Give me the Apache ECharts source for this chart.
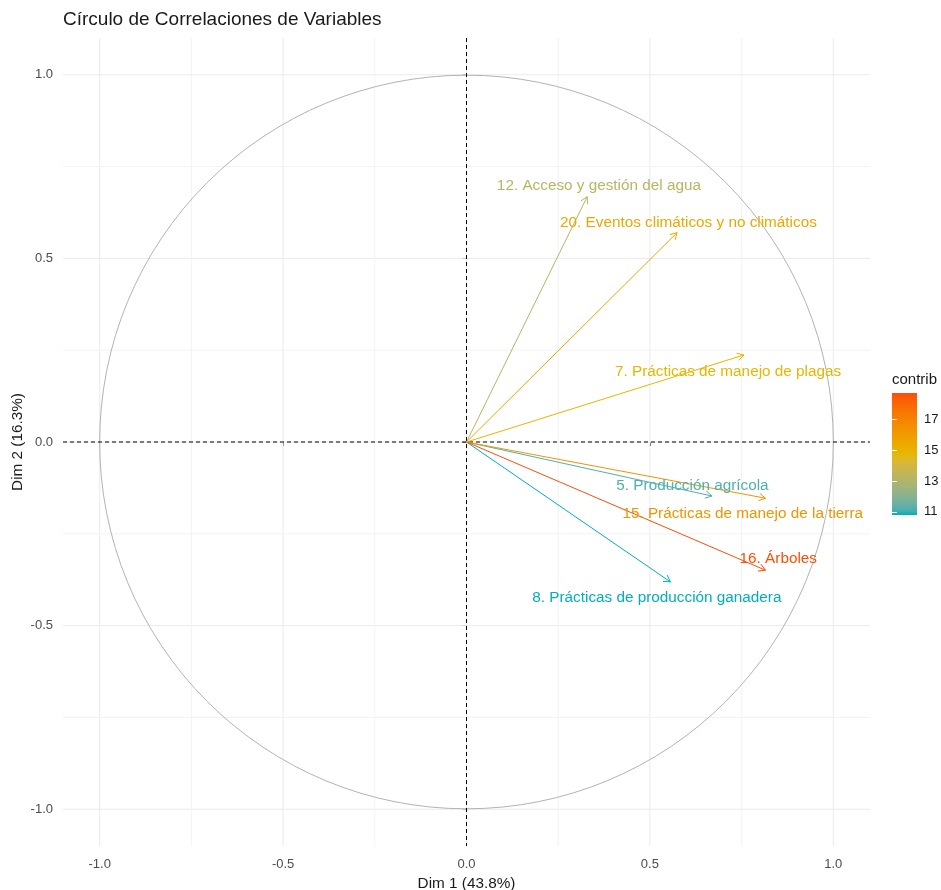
<!DOCTYPE html>
<html>
<head>
<meta charset="utf-8">
<script src="https://cdn.jsdelivr.net/npm/echarts@6/dist/echarts.min.js"></script>
<style>
  html, body { margin: 0; padding: 0; background: #ffffff; }
  #chart { width: 941px; height: 890px; }
</style>
</head>
<body>
<div id="chart"></div>
<script>
// Variable coordinates on the first two PCA dimensions and their contribution
const varNames = [
  '5. Producción agrícola',
  '7. Prácticas de manejo de plagas',
  '8. Prácticas de producción ganadera',
  '12. Acceso y gestión del agua',
  '15. Prácticas de manejo de la tierra',
  '16. Árboles',
  '20. Eventos climáticos y no climáticos'
];
const dim1 = [0.669, 0.756, 0.556, 0.329, 0.815, 0.815, 0.574];
const dim2 = [-0.147, 0.237, -0.381, 0.668, -0.153, -0.349, 0.570];
const contrib = [11.2, 14.9, 10.8, 13.2, 16.3, 18.7, 15.5];

const axisTicks = [-1, -0.5, 0, 0.5, 1];
const minorTicks = [-0.75, -0.25, 0.25, 0.75];
const legendTicks = [11, 13, 15, 17];

const chartTitle = 'Círculo de Correlaciones de Variables';
const xTitle = 'Dim 1 (43.8%)';
const yTitle = 'Dim 2 (16.3%)';
const legendTitle = 'contrib';

// Repelled label anchors, in data units
const labelAnchors = [
  [0.616, -0.120], [0.713, 0.190], [0.519, -0.423], [0.361, 0.698],
  [0.753, -0.195], [0.850, -0.318], [0.605, 0.597]
];

const gradientCols = ['#00AFBB', '#E7B800', '#FC4E07'];
const FONT = '"Liberation Sans", Arial, sans-serif';
const cMin = Math.min(...contrib);
const cMax = Math.max(...contrib);

// ---- colour ramp interpolated in CIELAB ----
function hexToRgb(h) {
  return [1, 3, 5].map(i => parseInt(h.substr(i, 2), 16) / 255);
}
function toLinear(c) { return c <= 0.04045 ? c / 12.92 : Math.pow((c + 0.055) / 1.055, 2.4); }
function fromLinear(c) { return c <= 0.0031308 ? 12.92 * c : 1.055 * Math.pow(c, 1 / 2.4) - 0.055; }
const WHITE = [0.95047, 1.0, 1.08883];
function rgbToLab(rgb) {
  const [r, g, b] = rgb.map(toLinear);
  const xyz = [
    0.4124564 * r + 0.3575761 * g + 0.1804375 * b,
    0.2126729 * r + 0.7151522 * g + 0.0721750 * b,
    0.0193339 * r + 0.1191920 * g + 0.9503041 * b
  ];
  const f = xyz.map((v, i) => {
    const t = v / WHITE[i];
    return t > 216 / 24389 ? Math.cbrt(t) : (24389 / 27 * t + 16) / 116;
  });
  return [116 * f[1] - 16, 500 * (f[0] - f[1]), 200 * (f[1] - f[2])];
}
function labToHex(lab) {
  const fy = (lab[0] + 16) / 116, fx = fy + lab[1] / 500, fz = fy - lab[2] / 200;
  const inv = t => (t * t * t > 216 / 24389 ? t * t * t : (116 * t - 16) / (24389 / 27));
  const X = inv(fx) * WHITE[0], Y = inv(fy) * WHITE[1], Z = inv(fz) * WHITE[2];
  const r = 3.2404542 * X - 1.5371385 * Y - 0.4985314 * Z;
  const g = -0.9692660 * X + 1.8760108 * Y + 0.0415560 * Z;
  const b = 0.0556434 * X - 0.2040259 * Y + 1.0572252 * Z;
  return '#' + [r, g, b].map(c => {
    const v = Math.round(Math.min(1, Math.max(0, fromLinear(c))) * 255);
    return v.toString(16).padStart(2, '0');
  }).join('');
}
function labRamp(cols, n) {
  const labs = cols.map(c => rgbToLab(hexToRgb(c)));
  const out = [];
  for (let k = 0; k < n; k++) {
    const t = k / (n - 1) * (labs.length - 1);
    const i = Math.min(Math.floor(t), labs.length - 2);
    const u = t - i;
    out.push(labToHex(labs[i].map((v, j) => v + (labs[i + 1][j] - v) * u)));
  }
  return out;
}
const rampCols = labRamp(gradientCols, 31);

const arrowData = dim1.map((x, i) => [x, dim2[i], contrib[i], i]);
const labelData = labelAnchors.map((p, i) => [p[0], p[1], contrib[i], i]);

// Panel grid lines (major + minor)
function renderGrid(params, api) {
  const cs = params.coordSys;
  const v = api.value(0);
  const major = api.value(1) === 1;
  const px = api.coord([v, 0])[0];
  const py = api.coord([0, v])[1];
  const style = { stroke: major ? '#EBEBEB' : '#F3F3F3', lineWidth: 1 };
  return {
    type: 'group',
    children: [
      { type: 'line', shape: { x1: px, y1: cs.y, x2: px, y2: cs.y + cs.height }, style },
      { type: 'line', shape: { x1: cs.x, y1: py, x2: cs.x + cs.width, y2: py }, style }
    ]
  };
}

function renderCircle(params, api) {
  const c = api.coord([0, 0]);
  const r = api.coord([1, 0])[0] - c[0];
  return {
    type: 'circle',
    shape: { cx: c[0], cy: c[1], r: r },
    style: { fill: 'none', stroke: '#B3B3B3', lineWidth: 1 }
  };
}

function renderZeroLines(params, api) {
  const cs = params.coordSys;
  const c = api.coord([0, 0]);
  const style = { stroke: '#000000', lineWidth: 1, lineDash: [4, 3] };
  return {
    type: 'group',
    children: [
      { type: 'line', shape: { x1: cs.x, y1: c[1], x2: cs.x + cs.width, y2: c[1] }, style },
      { type: 'line', shape: { x1: c[0], y1: cs.y, x2: c[0], y2: cs.y + cs.height }, style }
    ]
  };
}

function renderArrow(params, api) {
  const o = api.coord([0, 0]);
  const t = api.coord([api.value(0), api.value(1)]);
  const color = api.visual('color');
  const ang = Math.atan2(t[1] - o[1], t[0] - o[0]);
  const len = 7.5, spread = Math.PI / 6;
  const a1 = [t[0] - len * Math.cos(ang - spread), t[1] - len * Math.sin(ang - spread)];
  const a2 = [t[0] - len * Math.cos(ang + spread), t[1] - len * Math.sin(ang + spread)];
  const style = { stroke: color, lineWidth: 1, fill: 'none' };
  return {
    type: 'group',
    children: [
      { type: 'line', shape: { x1: o[0], y1: o[1], x2: t[0], y2: t[1] }, style },
      { type: 'polyline', shape: { points: [a1, t, a2] }, style }
    ]
  };
}

function renderLabel(params, api) {
  const p = api.coord([api.value(0), api.value(1)]);
  return {
    type: 'text',
    x: p[0], y: p[1],
    style: {
      text: varNames[api.value(3)],
      fill: api.visual('color'),
      font: '15.3px ' + FONT,
      align: 'center',
      verticalAlign: 'middle'
    }
  };
}

function renderColorbar(params, api) {
  const p0 = api.coord([0, cMin]);
  const p1 = api.coord([1, cMax]);
  return {
    type: 'rect',
    shape: { x: p0[0], y: p1[1], width: p1[0] - p0[0], height: p0[1] - p1[1] },
    style: {
      fill: {
        type: 'linear', x: 0, y: 1, x2: 0, y2: 0,
        colorStops: rampCols.map((c, i) => ({ offset: i / (rampCols.length - 1), color: c }))
      }
    }
  };
}

const gridValues = axisTicks.map(v => [v, 1]).concat(minorTicks.map(v => [v, 0]));

const chart = echarts.init(document.getElementById('chart'), null, { renderer: 'canvas' });
chart.setOption({
  animation: false,
  backgroundColor: '#ffffff',
  textStyle: { fontFamily: FONT },
  title: [
    {
      text: chartTitle, left: 63, top: 10, padding: 0,
      textStyle: { fontFamily: FONT, fontSize: 19, fontWeight: 'normal', color: '#1a1a1a' }
    },
    {
      text: legendTitle, left: 892, top: 372, padding: 0,
      textStyle: { fontFamily: FONT, fontSize: 15, fontWeight: 'normal', color: '#1a1a1a' }
    }
  ],
  grid: [
    { left: 63, top: 38, width: 807, height: 808, outerBoundsMode: 'none', containLabel: false },
    { left: 892, top: 393, width: 25, height: 122, outerBoundsMode: 'none', containLabel: false }
  ],
  visualMap: {
    show: false,
    type: 'continuous',
    min: cMin, max: cMax,
    dimension: 2,
    seriesIndex: [3, 4],
    inRange: { color: rampCols }
  },
  xAxis: [
    {
      type: 'value', gridIndex: 0, min: -1.1, max: 1.1,
      splitLine: { show: false },
      axisLine: { show: false },
      axisTick: { show: true, customValues: axisTicks, length: 4, lineStyle: { color: '#333333' } },
      axisLabel: {
        customValues: axisTicks, formatter: v => v.toFixed(1),
        color: '#4D4D4D', fontSize: 13, margin: 12, fontFamily: FONT
      },
      name: xTitle, nameLocation: 'middle', nameGap: 30,
      nameTextStyle: { fontFamily: FONT, fontSize: 15.3, color: '#1a1a1a' }
    },
    { type: 'value', gridIndex: 1, min: 0, max: 1, show: false }
  ],
  yAxis: [
    {
      type: 'value', gridIndex: 0, min: -1.1, max: 1.1,
      splitLine: { show: false },
      axisLine: { show: false },
      axisTick: { show: true, customValues: axisTicks, length: 4, lineStyle: { color: '#333333' } },
      axisLabel: {
        customValues: axisTicks, formatter: v => v.toFixed(1),
        color: '#4D4D4D', fontSize: 13, margin: 10, fontFamily: FONT
      },
      name: yTitle, nameLocation: 'middle', nameGap: 38, nameMoveOverlap: false,
      nameTextStyle: { fontFamily: FONT, fontSize: 15.3, color: '#1a1a1a' }
    },
    {
      type: 'value', gridIndex: 1, min: cMin, max: cMax, position: 'right', z: 5,
      splitLine: { show: false },
      axisLine: { show: false },
      axisTick: { show: true, inside: true, customValues: legendTicks, length: 5, lineStyle: { color: '#ffffff' } },
      axisLabel: { customValues: legendTicks, color: '#1a1a1a', fontSize: 13, margin: 7, fontFamily: FONT }
    },
    {
      type: 'value', gridIndex: 1, min: cMin, max: cMax, position: 'left', z: 5,
      splitLine: { show: false },
      axisLine: { show: false },
      axisTick: { show: true, inside: true, customValues: legendTicks, length: 5, lineStyle: { color: '#ffffff' } },
      axisLabel: { show: false }
    }
  ],
  series: [
    {
      type: 'custom', name: 'grid', xAxisIndex: 0, yAxisIndex: 0, z: 1, silent: true,
      renderItem: renderGrid, data: gridValues
    },
    {
      type: 'custom', name: 'circle', xAxisIndex: 0, yAxisIndex: 0, z: 2, silent: true,
      renderItem: renderCircle, data: [[0, 0]]
    },
    {
      type: 'custom', name: 'zero', xAxisIndex: 0, yAxisIndex: 0, z: 3, silent: true,
      renderItem: renderZeroLines, data: [[0, 0]]
    },
    {
      type: 'custom', name: 'arrows', xAxisIndex: 0, yAxisIndex: 0, z: 4,
      renderItem: renderArrow, data: arrowData, encode: { x: 0, y: 1 }
    },
    {
      type: 'custom', name: 'labels', xAxisIndex: 0, yAxisIndex: 0, z: 5,
      renderItem: renderLabel, data: labelData, encode: { x: 0, y: 1 }
    },
    {
      type: 'custom', name: 'colorbar', xAxisIndex: 1, yAxisIndex: 1, z: 2, silent: true,
      renderItem: renderColorbar, data: [[0, cMin]]
    }
  ]
});
</script>
</body>
</html>
